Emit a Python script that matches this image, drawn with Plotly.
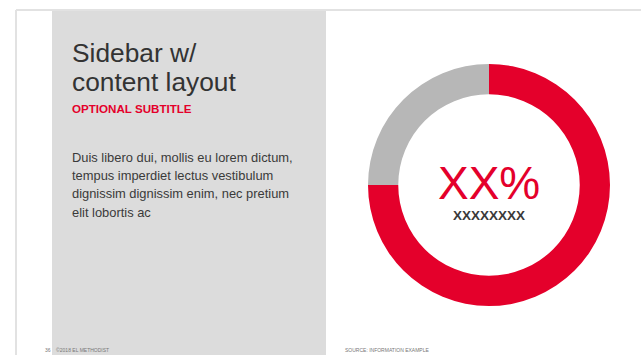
import plotly.graph_objects as go

W, H = 641, 355

# data
labels = ["Value", "Remainder"]
values = [75, 25]
colors = ["#e4002b", "#b7b7b7"]

title_lines = ["Sidebar w/", "content layout"]
subtitle = "OPTIONAL SUBTITLE"
body_lines = [
    "Duis libero dui, mollis eu lorem dictum,",
    "tempus imperdiet lectus vestibulum",
    "dignissim dignissim enim, nec pretium",
    "elit lobortis ac",
]
center_value = "XX%"
center_label = "XXXXXXXX"
footer_left = "36    ©2018 EL METHODIST"
footer_source = "SOURCE: INFORMATION EXAMPLE"


def px(x):
    return x / W


def py(y):
    return 1 - y / H


fig = go.Figure()
fig.add_trace(go.Pie(
    labels=labels, values=values, hole=0.75, sort=False, direction="clockwise",
    rotation=0, marker=dict(colors=colors, line=dict(width=0)),
    textinfo="none", hoverinfo="label+value", showlegend=False,
    domain=dict(x=[px(368), px(610)], y=[py(306), py(64)]),
))

shapes = [
    dict(type="rect", xref="paper", yref="paper", x0=px(52), x1=px(326), y0=0, y1=py(10),
         fillcolor="#dcdcdc", line=dict(width=0), layer="below"),
    dict(type="line", xref="paper", yref="paper", x0=px(16), x1=1, y0=py(10), y1=py(10),
         line=dict(color="#e2e2e2", width=2)),
    dict(type="line", xref="paper", yref="paper", x0=px(16), x1=px(16), y0=0, y1=py(10),
         line=dict(color="#e2e2e2", width=2)),
]

ann = []
font_main = "Liberation Sans, Arial, sans-serif"
font_narrow = "Liberation Sans Narrow, Arial Narrow, Liberation Sans, sans-serif"

title_baselines = [63, 92]
for line, b in zip(title_lines, title_baselines):
    ann.append(dict(text=line, x=px(71), y=py(b + 6), xanchor="left", yanchor="bottom",
                    font=dict(family=font_main, size=26.3, color="#333333")))
ann.append(dict(text="<b>" + subtitle + "</b>", x=px(71), y=py(116), xanchor="left", yanchor="bottom",
                font=dict(family=font_narrow, size=11.6, color="#e4002b")))
body_baselines = [162.3, 180.5, 198.7, 217]
for line, b in zip(body_lines, body_baselines):
    ann.append(dict(text=line, x=px(71), y=py(b + 3.6), xanchor="left", yanchor="bottom",
                    font=dict(family=font_main, size=12.9, color="#3a3a3a")))

ann.append(dict(text=center_value, x=px(489), y=py(183), xanchor="center", yanchor="middle",
                font=dict(family=font_main, size=46, color="#e4002b")))
ann.append(dict(text="<b>" + center_label + "</b>", x=px(489), y=py(215.5), xanchor="center", yanchor="middle",
                font=dict(family=font_narrow, size=13.5, color="#3a3a3a")))

ann.append(dict(text=footer_left, x=px(44), y=py(354), xanchor="left", yanchor="bottom",
                font=dict(family=font_main, size=5, color="#777777")))
ann.append(dict(text=footer_source, x=px(344), y=py(354), xanchor="left", yanchor="bottom",
                font=dict(family=font_main, size=5, color="#777777")))

for a in ann:
    a.update(xref="paper", yref="paper", showarrow=False, borderpad=0)

fig.update_layout(
    width=W, height=H, margin=dict(l=0, r=0, t=0, b=0),
    paper_bgcolor="white", plot_bgcolor="white",
    shapes=shapes, annotations=ann,
)

fig.write_html("out.html", config=dict(displayModeBar=False),
               post_script="document.body.style.margin='0px';document.body.style.overflow='hidden';")
